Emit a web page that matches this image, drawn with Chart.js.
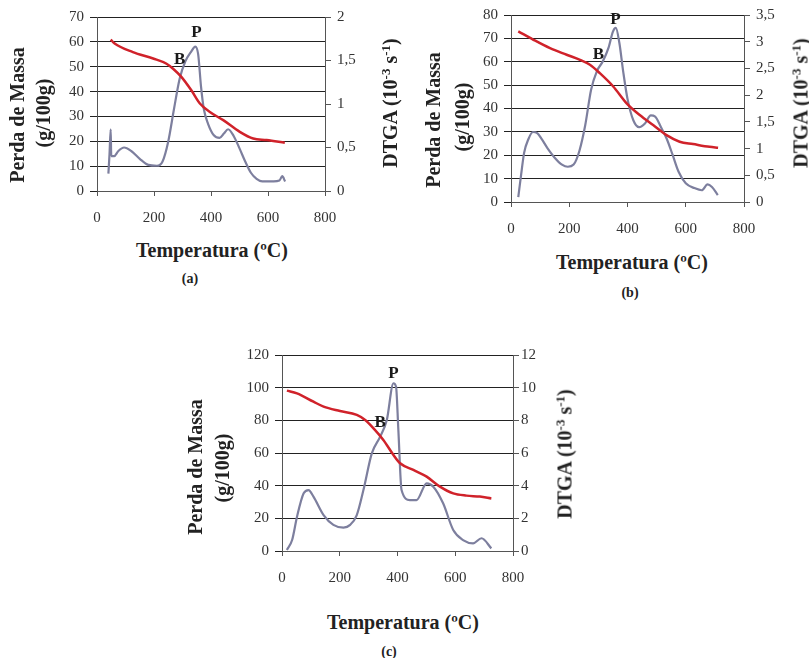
<!DOCTYPE html>
<html>
<head>
<meta charset="utf-8">
<script src="https://cdn.jsdelivr.net/npm/chart.js"></script>
<style>
  body { margin: 0; background: #fff; }
  #wrap { position: relative; width: 809px; height: 658px; overflow: hidden; font-family: "Liberation Serif", serif; color: #222; }
  canvas { position: absolute; }
  .t { position: absolute; white-space: nowrap; font-weight: bold; transform: translate(-50%, -50%); }
  .v { transform: translate(-50%, -50%) rotate(-90deg); }
  .ttl { font-size: 20px; }
  .cap { font-size: 14px; }
  sup { font-size: 13px; vertical-align: 7px; line-height: 0; }
</style>
</head>
<body>
<div id="wrap">
  <canvas id="chartA" width="400" height="235" style="left:0;top:0"></canvas>
  <canvas id="chartB" width="399" height="245" style="left:410px;top:0"></canvas>
  <canvas id="chartC" width="400" height="255" style="left:180px;top:340px"></canvas>

  <div class="t v ttl" style="left:17px;top:115px">Perda de Massa</div>
  <div class="t v ttl" style="left:43px;top:113px">(g/100g)</div>
  <div class="t v ttl" style="left:390px;top:103px">DTGA (10<sup>-3</sup> s<sup>-1</sup>)</div>
  <div class="t ttl" style="left:212px;top:250px">Temperatura (ºC)</div>
  <div class="t cap" style="left:190px;top:279px">(a)</div>

  <div class="t v ttl" style="left:433px;top:120px">Perda de Massa</div>
  <div class="t v ttl" style="left:462px;top:117px">(g/100g)</div>
  <div class="t v ttl" style="left:801px;top:103px">DTGA (10<sup>-3</sup> s<sup>-1</sup>)</div>
  <div class="t ttl" style="left:632px;top:262px">Temperatura (ºC)</div>
  <div class="t cap" style="left:630px;top:293px">(b)</div>

  <div class="t v ttl" style="left:195px;top:467px">Perda de Massa</div>
  <div class="t v ttl" style="left:222px;top:468px">(g/100g)</div>
  <div class="t v ttl" style="left:565px;top:454px">DTGA (10<sup>-3</sup> s<sup>-1</sup>)</div>
  <div class="t ttl" style="left:403px;top:622px">Temperatura (ºC)</div>
  <div class="t cap" style="left:389px;top:652px">(c)</div>
</div>
<script>
// (a)
const massTempA = [48, 62, 126, 197, 244, 267, 296, 331, 361, 396, 443, 501, 548, 595, 659];
const massA = [60.9, 59.3, 55.9, 53.3, 51.2, 49.2, 45.9, 40.5, 35.2, 31.8, 28.5, 23.8, 21.1, 20.5, 19.4];
const dtgaTempA = [40, 44, 48, 50, 60, 75, 95, 120, 150, 180, 210, 230, 250, 270, 290, 310, 330, 345, 355, 365, 375, 390, 410, 430, 445, 460, 480, 500, 520, 540, 560, 580, 620, 640, 650, 660];
const dtgaA = [0.2, 0.43, 0.71, 0.4, 0.4, 0.46, 0.5, 0.46, 0.37, 0.3, 0.29, 0.34, 0.57, 0.94, 1.29, 1.49, 1.6, 1.66, 1.57, 1.2, 0.94, 0.77, 0.64, 0.61, 0.66, 0.71, 0.63, 0.49, 0.34, 0.21, 0.14, 0.11, 0.11, 0.12, 0.17, 0.11];

// (b)
const massTempB = [25, 77, 134, 191, 237, 271, 305, 351, 397, 442, 488, 534, 579, 625, 682, 711];
const massB = [73, 69.4, 65.8, 63, 60.8, 58.7, 55.1, 49.4, 42.2, 37.2, 32.9, 28.6, 25.8, 24.8, 23.6, 23.2];
const dtgaTempB = [25, 35, 45, 60, 75, 90, 105, 125, 150, 175, 195, 215, 235, 255, 275, 295, 315, 335, 350, 360, 372, 385, 400, 420, 440, 460, 480, 495, 515, 535, 555, 575, 600, 630, 655, 675, 690, 710];
const dtgaB = [0.09, 0.52, 0.92, 1.18, 1.31, 1.29, 1.18, 1.01, 0.83, 0.7, 0.66, 0.7, 0.96, 1.44, 2.1, 2.45, 2.63, 2.89, 3.19, 3.26, 2.98, 2.45, 1.93, 1.53, 1.4, 1.47, 1.62, 1.6, 1.4, 1.18, 0.88, 0.57, 0.35, 0.26, 0.22, 0.33, 0.28, 0.13];

// (c)
const massTempC = [17, 52, 109, 144, 201, 259, 288, 317, 351, 386, 409, 455, 501, 547, 593, 639, 685, 725];
const massC = [98.2, 96.5, 91.4, 88.4, 85.7, 83.3, 80.2, 75.1, 68, 58.8, 53.7, 49.6, 45.5, 39.4, 35.3, 33.9, 33.3, 32.2];
const dtgaTempC = [17, 35, 52, 75, 92, 109, 144, 178, 213, 236, 259, 282, 311, 340, 363, 386, 395, 403, 414, 443, 466, 501, 524, 558, 593, 627, 662, 691, 725];
const dtgaC = [0.06, 0.67, 2.1, 3.53, 3.73, 3.33, 2.2, 1.6, 1.43, 1.6, 2.2, 3.73, 5.98, 7.0, 8.02, 10.27, 10.06, 7.4, 3.73, 3.12, 3.12, 4.14, 3.94, 2.92, 1.29, 0.67, 0.47, 0.78, 0.16];

// text marks P and B (temperature, mass)
const markText = ['P', 'B'];
const markTempA = [349, 290], markMassA = [63.7, 52.8];
const markTempB = [359, 300], markMassB = [78, 63];
const markTempC = [386, 340], markMassC = [108.8, 78.6];

const pts = (xs, ys) => xs.map((x, i) => ({ x: x, y: ys[i] }));
const tickFont = { family: 'Liberation Serif', size: 15 };
const comma = v => String(v).replace('.', ',');

const markPlugin = {
  id: 'marks',
  afterDatasetsDraw(chart, args, opts) {
    const { ctx, scales } = chart;
    ctx.save();
    ctx.font = 'bold 17px "Liberation Serif"';
    ctx.fillStyle = '#1a1a1a';
    ctx.textAlign = 'center';
    ctx.textBaseline = 'middle';
    opts.temps.forEach((t, i) => {
      ctx.fillText(markText[i], scales.x.getPixelForValue(t), scales.y.getPixelForValue(opts.mass[i]));
    });
    ctx.restore();
  }
};

function makeChart(id, cfg) {
  new Chart(document.getElementById(id), {
    type: 'line',
    data: {
      datasets: [
        {
          data: pts(cfg.mt, cfg.m), yAxisID: 'y',
          borderColor: '#d0222a', borderWidth: 2.5,
          pointRadius: 0, cubicInterpolationMode: 'monotone'
        },
        {
          data: pts(cfg.dt, cfg.d), yAxisID: 'y1',
          borderColor: '#7d7f9e', borderWidth: 2.2,
          pointRadius: 0, cubicInterpolationMode: 'monotone'
        }
      ]
    },
    options: {
      responsive: false,
      animation: false,
      layout: { padding: { top: cfg.top, left: 0, right: 0, bottom: 0 } },
      scales: {
        x: {
          type: 'linear', min: 0, max: 800,
          ticks: { stepSize: 200, font: tickFont, color: '#333', padding: 13 },
          grid: { drawOnChartArea: false, tickLength: 5, color: '#555' },
          border: { color: '#555' },
          afterFit: s => { s.height = cfg.xh; }
        },
        y: {
          position: 'left', min: 0, max: cfg.ymax,
          ticks: { stepSize: cfg.ystep, font: tickFont, color: '#333', padding: 6 },
          grid: { color: '#222', tickLength: 7 },
          border: { color: '#555' },
          afterFit: s => { s.width = cfg.lw; }
        },
        y1: {
          position: 'right', min: 0, max: cfg.rmax,
          ticks: { stepSize: cfg.rstep, font: tickFont, color: '#333', padding: cfg.rpad, callback: comma },
          grid: { drawOnChartArea: false, tickLength: 6, color: '#555' },
          border: { color: '#555' },
          afterFit: s => { s.width = cfg.rw; }
        }
      },
      plugins: {
        legend: { display: false },
        tooltip: { enabled: false },
        marks: { temps: cfg.kt, mass: cfg.km }
      }
    },
    plugins: [markPlugin]
  });
}

makeChart('chartA', { mt: massTempA, m: massA, dt: dtgaTempA, d: dtgaA, ymax: 70, ystep: 10, rmax: 2, rstep: 0.5,
  top: 17, lw: 97, rw: 75, xh: 44, rpad: 6, kt: markTempA, km: markMassA });
makeChart('chartB', { mt: massTempB, m: massB, dt: dtgaTempB, d: dtgaB, ymax: 80, ystep: 10, rmax: 3.5, rstep: 0.5,
  top: 15, lw: 101, rw: 65, xh: 43, rpad: 6, kt: markTempB, km: markMassB });
makeChart('chartC', { mt: massTempC, m: massC, dt: dtgaTempC, d: dtgaC, ymax: 120, ystep: 20, rmax: 12, rstep: 2,
  top: 15, lw: 102, rw: 67, xh: 44, rpad: 2, kt: markTempC, km: markMassC });
</script>
</body>
</html>
